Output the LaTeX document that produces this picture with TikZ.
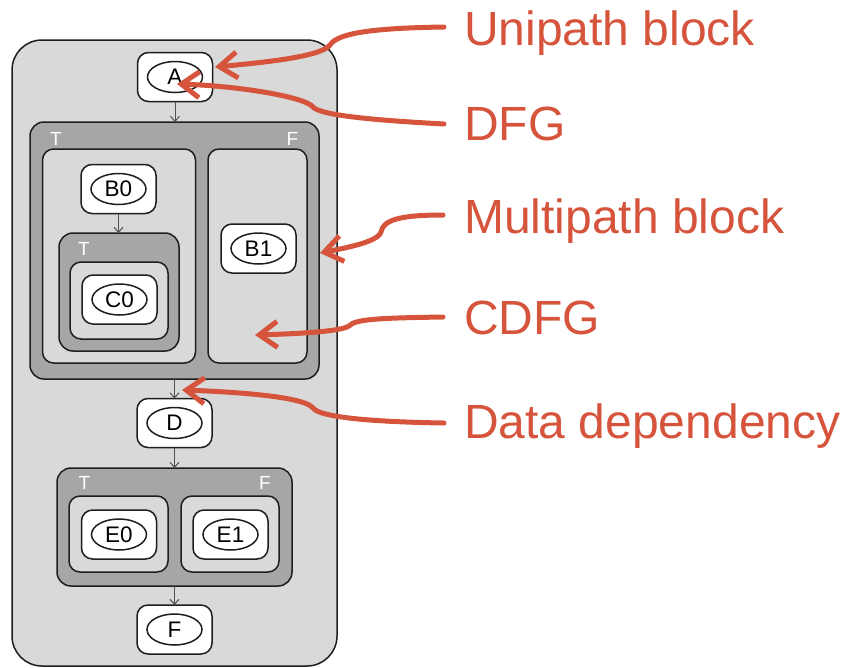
\documentclass[tikz,border=0pt]{standalone}
\usepackage{fontspec}
\setmainfont{Liberation Sans}
\usetikzlibrary{arrows.meta,shapes.geometric}
\definecolor{annot}{RGB}{213,84,59}
\definecolor{boxline}{RGB}{30,30,30}
\definecolor{lightfill}{RGB}{217,217,217}
\definecolor{mpfill}{RGB}{166,166,166}
\definecolor{flowline}{RGB}{80,80,80}
\begin{document}
\begin{tikzpicture}[x=1pt,y=-1pt,
  block/.style={draw=boxline,line width=1.5pt,inner sep=0pt,outer sep=0pt},
  unipath/.style={block,fill=lightfill,rounded corners=30pt},
  multipath/.style={block,fill=mpfill,rounded corners=14pt},
  branch/.style={block,fill=lightfill,rounded corners=11pt},
  opbox/.style={block,fill=white,rounded corners=11pt,minimum width=75pt,minimum height=49pt},
  opell/.style={ellipse,draw=boxline,line width=1.5pt,fill=white,minimum width=55pt,
    minimum height=31pt,inner sep=0pt,font=\fontsize{22.5}{22.5}\selectfont},
  tf/.style={text=white,font=\fontsize{19}{19}\selectfont,inner sep=0pt},
  flow/.style={draw=flowline,line width=1pt,-{Straight Barb[length=5pt,width=9pt]}},
  note/.style={text=annot,font=\fontsize{48}{50}\selectfont,anchor=base west,inner sep=0pt},
  pointer/.style={draw=annot,line width=5pt,line cap=round,line join=round,
    -{Straight Barb[length=18pt,width=26pt]}}]
\useasboundingbox (0,0) rectangle (842,667);

% outer unipath block
\node[unipath,minimum width=325pt,minimum height=626pt] (U) at (174.5,353) {};

% operation A
\node[opbox] (A) at (175,77) {};
\node[opell] (Ae) at (A) {A};

% first multipath block
\node[multipath,minimum width=289pt,minimum height=257pt] (M1) at (174.5,250.5) {};
\node[tf] (M1t) at (56,138.5) {T};
\node[tf] (M1f) at (292.5,138.5) {F};
\node[branch,minimum width=153pt,minimum height=214pt] (L1) at (119,256) {};
\node[branch,minimum width=99pt,minimum height=214pt] (R1) at (257.5,256) {};

\node[opbox] (B0) at (118.5,189) {};
\node[opell] (B0e) at (B0) {B0};

% nested multipath block
\node[multipath,minimum width=120pt,minimum height=118pt] (M2) at (119,292) {};
\node[tf] (M2t) at (84,248.5) {T};
\node[branch,minimum width=98pt,minimum height=77pt] (L2) at (119,300.5) {};
\node[opbox] (C0) at (119.5,299.5) {};
\node[opell] (C0e) at (C0) {C0};

\node[opbox] (B1) at (258.5,248.5) {};
\node[opell] (B1e) at (B1) {B1};

% operation D
\node[opbox] (D) at (174.5,423) {};
\node[opell] (De) at (D) {D};

% second multipath block
\node[multipath,minimum width=235pt,minimum height=118pt] (M3) at (174.5,527) {};
\node[tf] (M3t) at (84.5,483) {T};
\node[tf] (M3f) at (265,483) {F};
\node[branch,minimum width=99pt,minimum height=76pt] (L3) at (118.5,534) {};
\node[branch,minimum width=98pt,minimum height=76pt] (R3) at (230,534) {};
\node[opbox] (E0) at (119,534.5) {};
\node[opell] (E0e) at (E0) {E0};
\node[opbox] (E1) at (230.5,534.5) {};
\node[opell] (E1e) at (E1) {E1};

% operation F
\node[opbox] (F) at (174.5,629.5) {};
\node[opell] (Fe) at (F) {F};

% data dependencies
\draw[flow] (A.south) -- (M1.north -| A.south);
\draw[flow] (B0.south) -- (M2.north -| B0.south);
\draw[flow] (M1.south -| D.north) -- (D.north);
\draw[flow] (D.south) -- (M3.north -| D.south);
\draw[flow] (M3.south -| F.north) -- (F.north);

% annotations
\node[note] (tUni) at (464,45) {Unipath block};
\node[note] (tDfg) at (464,140) {DFG};
\node[note] (tMulti) at (464,233) {Multipath block};
\node[note] (tCdfg) at (464,334) {CDFG};
\node[note] (tDep) at (464,438) {Data dependency};

\coordinate (sUni) at (444,27);
\coordinate (sDfg) at (444,124);
\coordinate (sMulti) at (443,215);
\coordinate (sCdfg) at (443,317);
\coordinate (sDep) at (444,423);

\coordinate (pUni) at (215,67);
\coordinate (pDfg) at (177,84);
\coordinate (pMulti) at (320,253);
\coordinate (pCdfg) at (255,335);
\coordinate (pDep) at (182,390);

\draw[pointer] (sUni) .. controls (380,28) and (338,32) .. (330,45)
  .. controls (322,56) and (270,62) .. (pUni);
\draw[pointer] (sDfg) .. controls (370,120) and (320,115) .. (313,107)
  .. controls (305,97) and (240,86) .. (pDfg);
\draw[pointer] (sMulti) .. controls (400,215) and (383,220) .. (381,232)
  .. controls (378,242) and (345,248) .. (pMulti);
\draw[pointer] (sCdfg) .. controls (380,318) and (355,319) .. (349,326)
  .. controls (340,332) and (290,334) .. (pCdfg);
\draw[pointer] (sDep) .. controls (380,422) and (320,418) .. (313,408)
  .. controls (305,397) and (240,392) .. (pDep);
\end{tikzpicture}
\end{document}
